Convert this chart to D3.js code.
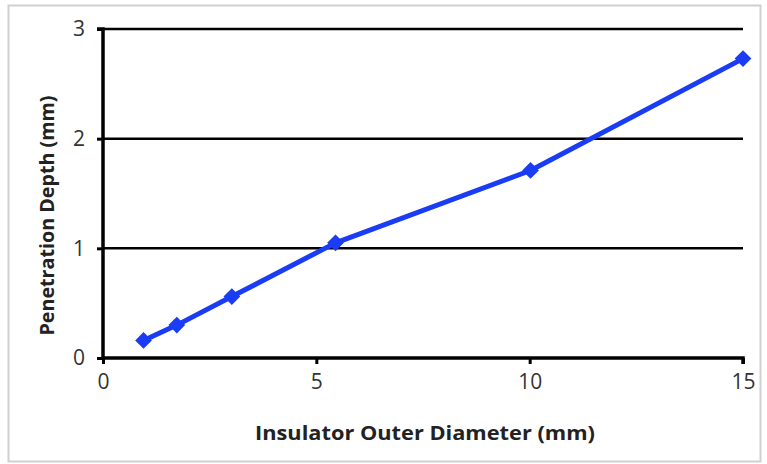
<!DOCTYPE html>
<html><head><meta charset="utf-8">
<script src="https://cdn.jsdelivr.net/npm/d3@7"></script>
<style>body{margin:0;background:#fff}svg{display:block}</style>
</head><body><div id="c"></div>
<script>
const diameters = [0.95, 1.73, 3.02, 5.45, 10.02, 15.0];
const depths = [0.16, 0.30, 0.56, 1.05, 1.71, 2.73];
const xTicks = [0, 5, 10, 15];
const yTicks = [0, 1, 2, 3];
const xTitle = "Insulator Outer Diameter (mm)";
const yTitle = "Penetration Depth (mm)";

const W = 767, H = 464;
const svg = d3.select("#c").append("svg").attr("width", W).attr("height", H);
svg.append("rect").attr("x", 8.5).attr("y", 5.5).attr("width", 752).attr("height", 456)
  .attr("fill", "#fff").attr("stroke", "#d0d0d0").attr("stroke-width", 2);

const x = d3.scaleLinear().domain([0, 15]).range([103, 743]);
const y = d3.scaleLinear().domain([0, 3]).range([358, 29]);
const font = "'Open Sans', 'Liberation Sans', sans-serif";

svg.append("g").selectAll("line").data(yTicks.filter(d => d > 0)).join("line")
  .attr("x1", x(0)).attr("x2", x(15)).attr("y1", d => y(d)).attr("y2", d => y(d))
  .attr("stroke", "#000").attr("stroke-width", 2.5);

const yAxis = svg.append("g").attr("transform", `translate(${x(0)},0)`)
  .call(d3.axisLeft(y).tickValues(yTicks).tickSize(6).tickPadding(12).tickFormat(d3.format("d")));
const xAxis = svg.append("g").attr("transform", `translate(0,${y(0)})`)
  .call(d3.axisBottom(x).tickValues(xTicks).tickSize(6).tickPadding(10).tickFormat(d3.format("d")));
[yAxis, xAxis].forEach(a => {
  a.select(".domain").attr("stroke", "#000").attr("stroke-width", 3.5);
  a.selectAll(".tick line").attr("stroke", "#000").attr("stroke-width", 3);
  a.selectAll(".tick text").attr("font-family", font).attr("font-size", 21).attr("fill", "#333");
});
yAxis.select(".domain").attr("d", `M-6,${y(3)}H0V${y(0)}`);
xAxis.select(".domain").attr("d", `M${x(0)},0H${x(15)}V6`);

const pts = diameters.map((d, i) => [d, depths[i]]);
svg.append("path").datum(pts)
  .attr("d", d3.line().x(d => x(d[0])).y(d => y(d[1])))
  .attr("fill", "none").attr("stroke", "#1a3cf5").attr("stroke-width", 5).attr("stroke-linejoin", "round");
svg.append("g").selectAll("path").data(pts).join("path")
  .attr("transform", d => `translate(${x(d[0])},${y(d[1])}) rotate(45)`)
  .attr("d", d3.symbol().type(d3.symbolSquare).size(140))
  .attr("fill", "#1a3cf5");

svg.append("text").attr("x", 425).attr("y", 440).attr("text-anchor", "middle")
  .attr("font-family", font).attr("font-weight", "bold").attr("font-size", 20).attr("fill", "#222")
  .attr("textLength", 340).attr("lengthAdjust", "spacingAndGlyphs").text(xTitle);
svg.append("text").attr("transform", `translate(54,${(y(0)+y(3))/2 + 22}) rotate(-90)`).attr("text-anchor", "middle")
  .attr("font-family", font).attr("font-weight", "bold").attr("font-size", 20).attr("fill", "#222")
  .attr("textLength", 240).attr("lengthAdjust", "spacingAndGlyphs").text(yTitle);
</script></body></html>
